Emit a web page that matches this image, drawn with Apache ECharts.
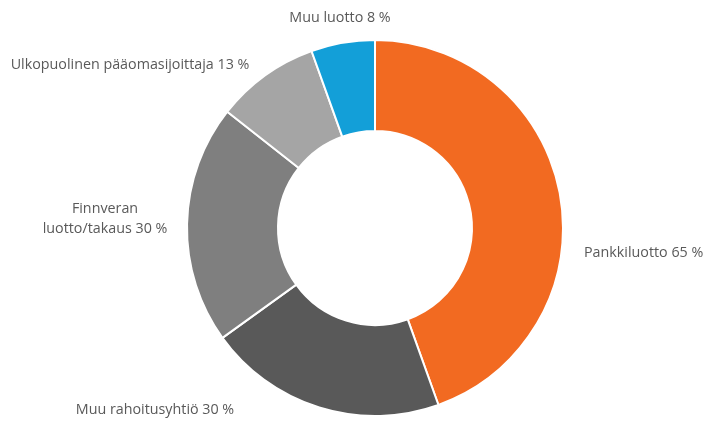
<!DOCTYPE html>
<html><head><meta charset="utf-8">
<script src="https://cdn.jsdelivr.net/npm/echarts@6/dist/echarts.min.js"></script>
<style>html,body{margin:0;padding:0;background:#fff}#c{width:708px;height:422px}</style>
</head><body><div id="c"></div>
<script>
const categories = ['Pankkiluotto', 'Muu rahoitusyhtiö', 'Finnveran\nluotto/takaus', 'Ulkopuolinen pääomasijoittaja', 'Muu luotto'];
const values = [65, 30, 30, 13, 8];
const colors = ['#F26A21', '#595959', '#7F7F7F', '#A5A5A5', '#139FD8'];
const labelSpots = [
  {x: 584, y: 253, align: 'left'},
  {x: 155, y: 410, align: 'center'},
  {x: 105, y: 219, align: 'center'},
  {x: 130, y: 65, align: 'center'},
  {x: 340, y: 18, align: 'center'}
];
const chart = echarts.init(document.getElementById('c'));
chart.setOption({
  animation: false,
  series: [{
    type: 'pie',
    center: [375, 228],
    radius: [97, 188],
    startAngle: 90,
    clockwise: true,
    avoidLabelOverlap: false,
    itemStyle: {borderColor: '#fff', borderWidth: 2},
    label: {
      show: true, position: 'outside', color: '#595959',
      fontFamily: 'Open Sans', fontSize: 14.3, lineHeight: 20,
      formatter: p => p.name + ' ' + p.value + ' %'
    },
    labelLine: {show: false},
    labelLayout: p => {
      const s = labelSpots[p.dataIndex];
      return {x: s.x, y: s.y, align: s.align, verticalAlign: 'middle'};
    },
    emphasis: {disabled: true},
    data: categories.map((c, i) => ({name: c, value: values[i], itemStyle: {color: colors[i]}}))
  }]
});
</script></body></html>
